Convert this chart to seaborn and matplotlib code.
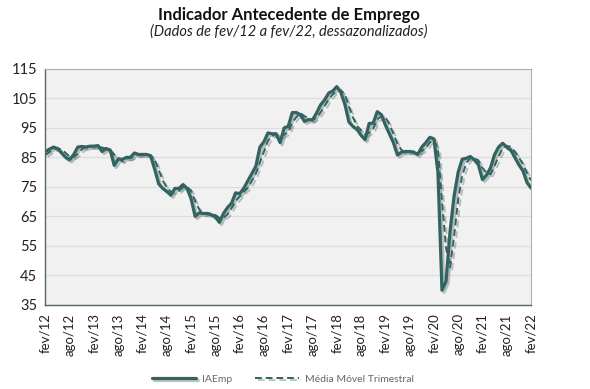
import pandas as pd
import matplotlib.pyplot as plt
import matplotlib.patheffects as pe
import seaborn as sns

# monthly values, fev/12 .. fev/22
iaemp = [87, 87.8, 88.5, 88, 86.5, 85, 84.2, 86, 88.5, 88.7, 88.5, 88.8,
         88.8, 89, 87, 88, 87.5, 82.3, 84.5, 84.3, 85, 85, 86.5, 86,
         86, 86, 85.5, 81, 76, 74.5, 73.5, 72.2, 74.5, 74.5, 75.8, 74.5,
         71, 65, 66.2, 66, 66, 65.6, 64.8, 63, 66, 68, 69.5, 73,
         72.7, 74.5, 77, 79.5, 82, 88.5, 90.3, 93.3, 93, 93, 90, 95,
         95.5, 100.2, 100.2, 99.5, 97.2, 97.8, 97.7, 100, 102.8, 104.5, 106.8, 107.5,
         109, 107, 103, 97, 95.5, 94.5, 92.5, 91, 96.5, 96.6, 100.5, 99.5,
         96, 93, 90, 85.8, 86.8, 87, 87, 86.8, 86, 88.5, 90, 91.8,
         91.3, 80, 40, 43, 60, 72, 80, 84.4, 84.7, 85.3, 84.2, 82.5,
         77.5, 79, 81.5, 86, 88.5, 89.8, 88.5, 87.5, 85, 82.5, 80.5, 76.5,
         74.6]

media_movel = [85.8, 86.8, 87.8, 88.1, 87.7, 86.5, 85.2, 85.1, 86.2, 87.7, 88.6, 88.7,
               88.7, 88.9, 88.3, 88, 87.5, 85.9, 84.8, 83.7, 84.6, 84.8, 85.5, 85.8,
               86.2, 86, 85.8, 84.2, 80.8, 77.2, 74.7, 73.4, 73.4, 73.7, 74.9, 74.9,
               73.8, 70.2, 67.4, 65.7, 66.1, 65.9, 65.5, 64.5, 64.6, 65.7, 67.8, 70.2,
               71.7, 73.4, 74.7, 77, 79.5, 83.3, 86.9, 90.7, 92.2, 93.1, 92, 92.7,
               93.5, 96.9, 98.6, 100, 99, 98.2, 97.6, 98.5, 100.2, 102.4, 104.7, 106.3,
               107.8, 107.8, 106.3, 102.3, 98.5, 95.7, 94.2, 92.7, 93.3, 94.7, 97.9, 98.9,
               98.7, 96.2, 93, 89.6, 87.5, 86.5, 86.9, 86.9, 86.6, 87.1, 88.2, 90.1,
               91, 87.7, 70.4, 54.3, 47.7, 58.3, 70.7, 78.8, 83, 84.8, 84.7, 84,
               81.4, 79.7, 79.3, 82.2, 85.3, 88.1, 88.9, 88.6, 87, 85, 82.7, 79.8,
               77.2]

tick_labels = ["fev/12", "ago/12", "fev/13", "ago/13", "fev/14", "ago/14", "fev/15",
               "ago/15", "fev/16", "ago/16", "fev/17", "ago/17", "fev/18", "ago/18",
               "fev/19", "ago/19", "fev/20", "ago/20", "fev/21", "ago/21", "fev/22"]

df = pd.DataFrame({"mes": range(len(iaemp)), "IAEmp": iaemp,
                   "Média Móvel Trimestral": media_movel})

sns.set_theme(style="white")
plt.rcParams['font.family'] = ['Lato', 'DejaVu Sans']

cor = "#2f6461"
shadow = [pe.SimpleLineShadow(offset=(1.5, -1.5), shadow_color="#555555", alpha=0.35), pe.Normal()]

fig = plt.figure(figsize=(5.9, 3.89), dpi=100)
ax = fig.add_axes([0.077, 0.216, 0.823, 0.607])
ax.set_facecolor("#f1f1f1")

sns.lineplot(data=df, x="mes", y="IAEmp", ax=ax, color=cor, lw=2.3,
             label="IAEmp", path_effects=shadow)
sns.lineplot(data=df, x="mes", y="Média Móvel Trimestral", ax=ax, color=cor, lw=1.4,
             linestyle=(0, (3.5, 2)), label="Média Móvel Trimestral", path_effects=shadow)

ax.set_xlim(0, 120)
ax.set_ylim(35, 115)
ax.set_yticks(range(35, 116, 10))
ax.set_xticks(range(0, 121, 6))
ax.set_xticklabels(tick_labels, rotation=90)
ax.tick_params(axis="both", length=4, width=0.8, color="#4a6b6a", labelsize=10.5,
               labelcolor="#222222", pad=2, direction="out")
ax.tick_params(axis="x", labelsize=9.5)
ax.grid(axis="y", color="#dddddd", lw=0.9)
ax.set_axisbelow(True)
ax.set_xlabel("")
ax.set_ylabel("")
for s in ["top", "right"]:
    ax.spines[s].set_color("#b0b0b0")
    ax.spines[s].set_linewidth(0.8)
for s in ["left", "bottom"]:
    ax.spines[s].set_color("#4a6b6a")
    ax.spines[s].set_linewidth(1.0)

leg = ax.legend(loc="upper center", bbox_to_anchor=(0.49, -0.255), ncol=2, frameon=False,
                fontsize=7.5, handlelength=4.2, columnspacing=2.2, handletextpad=0.6)
for t in leg.get_texts():
    t.set_color("#666666")

fig.text(0.49, 0.962, "Indicador Antecedente de Emprego", ha="center", va="center",
         fontsize=12, fontweight="bold", color="#111111")
fig.text(0.49, 0.918, "(Dados de fev/12 a fev/22, dessazonalizados)", ha="center",
         va="center", fontsize=10.5, style="italic", color="#222222")

fig.savefig("out.png", dpi=100, facecolor="white")
